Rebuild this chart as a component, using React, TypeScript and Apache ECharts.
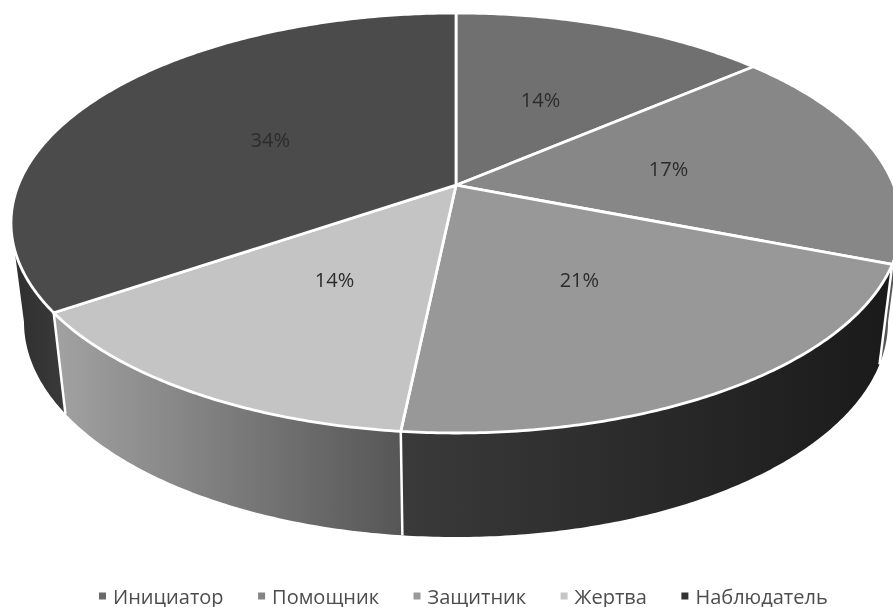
import React, { useEffect, useRef } from "react";
import * as echarts from "echarts";

const categories = ["Инициатор", "Помощник", "Защитник", "Жертва", "Наблюдатель"];
const shares = [13.7, 17.2, 20.7, 13.8, 34.5];
const shownPercents = [14, 17, 21, 14, 34];
const topColors = ["#707070", "#878787", "#989898", "#c4c4c4", "#4b4b4b"];
const legendColors = ["#6a6a6a", "#858585", "#9a9a9a", "#c6c6c6", "#333333"];
const wallColors = [
  ["#5a5a5a", "#5a5a5a"],
  ["#555555", "#555555"],
  ["#3a3a3a", "#1a1a1a"],
  ["#a2a2a2", "#565656"],
  ["#2e2e2e", "#3a3a3a"],
];

// perspective model of the disc
const CX = 456, TOP_CY = 223, TOP_RX = 445, TOP_RY = 210;
const BOT_CY = 322, BOT_RX = 432, BOT_RY = 215;
const K = -0.18;
const project = (theta: number, r: number) => {
  const x = r * Math.sin(theta), y = -r * Math.cos(theta);
  const d = 1 + K * y;
  return [(x * Math.sqrt(1 - K * K)) / d, (y + K) / d];
};
const topPt = (theta: number, r = 1) => {
  const [a, b] = project(theta, r);
  return [CX + TOP_RX * a, TOP_CY + TOP_RY * b];
};
const botPt = (theta: number) => {
  const [a, b] = project(theta, 1);
  return [CX + BOT_RX * a, BOT_CY + BOT_RY * b];
};
const VIS = Math.acos(K); // angle where the silhouette starts
const total = shares.reduce((a, b) => a + b, 0);

const arc = (a: number, b: number, f: (t: number) => number[]) => {
  const n = Math.max(2, Math.ceil(Math.abs(b - a) / 0.01));
  const pts: number[][] = [];
  for (let i = 0; i <= n; i++) pts.push(f(a + ((b - a) * i) / n));
  return pts;
};

export default function App() {
  const ref = useRef<HTMLDivElement>(null);
  useEffect(() => {
    const chart = echarts.init(ref.current!, null, { renderer: "svg" });
    let cum = 0;
    const series = categories.map((name, i) => {
      const start = cum;
      cum += shares[i];
      return {
        type: "custom",
        name,
        coordinateSystem: "none",
        itemStyle: { color: legendColors[i] },
        data: [[shares[i], start, shownPercents[i], i]],
        renderItem: (_: any, api: any) => {
          const v = api.value(0), s = api.value(1), pct = api.value(2), idx = api.value(3);
          const a0 = (s / total) * 2 * Math.PI;
          const a1 = ((s + v) / total) * 2 * Math.PI;
          const children: any[] = [];
          const w0 = Math.max(a0, VIS), w1 = Math.min(a1, 2 * Math.PI - VIS);
          if (w1 > w0) {
            children.push({
              type: "polygon",
              z2: 1,
              shape: { points: [...arc(w0, w1, topPt), ...arc(w1, w0, botPt)] },
              style: {
                fill: new echarts.graphic.LinearGradient(0, 0, 1, 0, [
                  { offset: 0, color: wallColors[idx][0] },
                  { offset: 1, color: wallColors[idx][1] },
                ]),
              },
            });
          }
          if (a0 >= VIS && a0 <= 2 * Math.PI - VIS) {
            const p = topPt(a0), q = botPt(a0);
            children.push({
              type: "line",
              z2: 5,
              shape: { x1: p[0], y1: p[1], x2: q[0], y2: q[1] },
              style: { stroke: "#ffffff", lineWidth: 2.5 },
            });
          }
          children.push({
            type: "polygon",
            z2: 10,
            shape: { points: [topPt(0, 0), ...arc(a0, a1, (t) => topPt(t))] },
            style: { fill: topColors[idx], stroke: "#ffffff", lineWidth: 2.8, lineJoin: "round" },
          });
          const mid = topPt((a0 + a1) / 2, 0.5);
          children.push({
            type: "text",
            z2: 20,
            x: mid[0],
            y: mid[1],
            style: {
              text: `${pct}%`,
              fill: "#2c2c2c",
              font: '20px "Open Sans"',
              align: "center",
              verticalAlign: "middle",
            },
          });
          return { type: "group", children };
        },
      };
    });
    chart.setOption({
      animation: false,
      backgroundColor: "#ffffff",
      legend: {
        data: categories,
        left: 94,
        top: 581,
        icon: "path://M0 0H1V1H0Z",
        itemWidth: 11,
        itemHeight: 7,
        itemGap: 34.5,
        textStyle: { color: "#4d4d4d", fontFamily: "Open Sans", fontSize: 20, lineHeight: 20 },
      },
      series,
    });
    return () => chart.dispose();
  }, []);
  return (
    <div
      ref={ref}
      style={{
        position: "absolute",
        left: 0,
        top: 0,
        width: 893,
        height: 607,
        filter: "blur(0.5px)",
      }}
    />
  );
}
